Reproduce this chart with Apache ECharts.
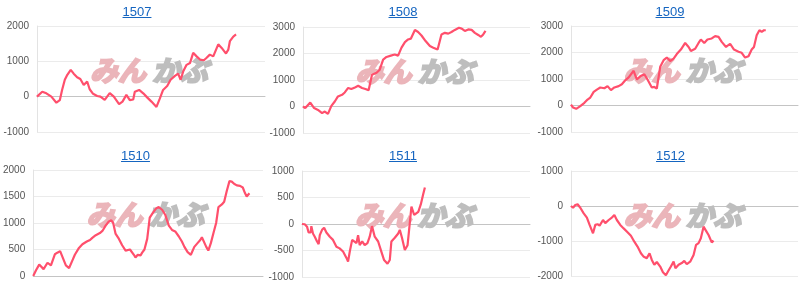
<!DOCTYPE html>
<html>
<head>
<meta charset="utf-8">
<script src="https://cdn.jsdelivr.net/npm/echarts@6/dist/echarts.min.js"></script>
<style>
html,body{margin:0;padding:0;background:#fff;}
#wrap{position:relative;width:800px;height:289px;}
#chart{position:absolute;left:0;top:0;width:800px;height:289px;}
.ttl{position:absolute;width:80px;margin-left:-40px;text-align:center;font:13px "Liberation Sans",Arial,sans-serif;line-height:15px;}
.ttl a{color:#1565c0;text-decoration:underline;}
</style>
</head>
<body>
<div id="wrap"><div id="chart"></div></div>
<script>
// ---- data (x = position within the period, 0..100; y = value) ----
const titles = ['1507', '1508', '1509', '1510', '1511', '1512'];

const x1507 = [0,2.3,4.1,6.3,8.5,10.0,11.0,12.2,13.3,14.8,16.1,17.6,19.0,20.5,22.0,23.1,24.6,26.4,27.8,29.7,31.9,33.7,36.0,37.5,39.2,40.7,42.2,42.9,44.8,46.6,48.3,50.2,52.4,53.9,55.3,57.1,58.6,60.5,61.9,63.0,64.1,65.6,67.1,68.5,70.0,71.5,73.2,74.4,75.8,77.3,79.5,81.0,82.9,83.9,84.6,86.1,87.3];
const v1507 = [0,140,95,0,-170,-100,190,480,620,760,650,550,500,330,430,210,80,20,0,-90,100,0,-210,-140,50,-100,-80,140,190,95,-20,-140,-290,-50,190,300,480,590,650,480,710,900,950,1240,1140,1050,1030,1100,1190,1140,1480,1380,1220,1330,1570,1700,1760];

const x1508 = [0,1.0,3.2,4.9,6.6,8.4,9.6,11.0,12.5,14.0,15.4,17.2,18.4,19.9,21.3,23.1,24.3,26.0,27.5,28.9,30.4,32.4,33.8,35.3,36.8,38.7,40.4,41.9,43.4,44.9,46.3,47.5,49.3,50.7,52.2,54.0,55.9,57.4,59.3,61.0,62.5,64.0,65.4,66.9,68.7,69.9,71.3,72.8,74.3,75.7,77.2,78.4,79.4,80.4];
const v1508 = [0,-60,150,-60,-130,-250,-190,-280,25,190,380,440,530,700,660,730,780,700,660,610,1200,1270,1390,1770,1870,1920,1960,1920,2220,2430,2530,2560,2890,2810,2680,2470,2280,2220,2150,2720,2780,2750,2810,2890,2970,2940,2850,2910,2890,2780,2700,2630,2720,2850];

const x1509 = [0,0.9,2.3,4.1,5.9,7.3,8.5,10.0,11.4,12.9,14.7,16.1,17.6,19.1,21.0,22.4,23.9,25.4,27.6,29.0,30.5,32.3,33.7,35.6,36.7,37.8,39.3,40.8,42.2,43.7,45.2,46.6,48.4,50.3,51.8,52.8,54.7,56.2,57.2,58.7,60.1,62.0,63.5,65.0,66.4,68.3,70.1,71.8,73.8,75.2,76.7,78.2,79.6,80.6,81.8,83.0,84.0,85.0,85.8];
const v1509 = [30,-75,-125,-25,100,225,300,515,600,680,650,730,580,680,730,800,950,1060,1310,980,1100,1180,980,680,700,640,1460,1710,1810,1680,1770,1940,2110,2360,2210,2060,2140,2360,2490,2360,2490,2530,2620,2590,2400,2210,2330,2110,2030,1990,1810,1860,2110,2210,2650,2840,2780,2840,2840];

const x1510 = [0,1.2,2.6,4.5,6.2,7.7,9.4,10.5,11.7,14.2,15.6,17.1,18.1,19.9,21.4,23.3,24.7,25.7,27.2,29.0,30.1,31.5,32.9,34.0,34.8,35.8,37.3,38.7,40.2,40.9,42.1,42.6,43.8,44.5,45.5,46.7,47.4,48.4,49.6,50.7,52.2,53.6,54.6,56.1,57.5,59.0,60.4,61.8,63.3,64.7,65.8,67.2,68.6,70.1,71.5,72.7,73.4,74.1,75.3,76.2,77.3,78.5,79.6,80.6,82.1,83.1,84.2,85.4,86.4,87.4,88.6,90.0,91.2,92.2,92.9,93.6,94.1];
const v1510 = [0,107,215,130,250,200,410,440,470,200,150,300,400,530,600,650,680,720,770,810,850,950,1030,1050,1000,800,700,580,480,450,500,530,400,350,400,390,440,500,700,1100,1200,1280,1300,1250,1150,950,870,840,750,650,550,450,400,550,620,680,730,700,550,480,620,820,1000,1300,1350,1400,1600,1790,1780,1740,1710,1700,1670,1560,1500,1530,1560];

const x1511 = [0,1.2,2.2,2.9,3.8,4.1,4.8,5.6,6.6,7.3,7.8,8.8,9.7,10.7,12.2,13.6,15.1,16.5,18.0,19.5,20.2,21.0,22.0,22.8,23.9,24.6,25.3,26.4,27.5,28.7,29.7,30.7,31.9,33.4,34.8,36.0,37.5,38.5,39.2,40.7,42.2,42.9,43.9,45.1,46.3,46.9,48.0,49.2,49.8,51.0,52.1,53.1,53.9];
const v1511 = [0,-5,-50,-160,-160,-40,-180,-240,-330,-380,-210,-110,-70,-160,-240,-300,-430,-460,-520,-640,-710,-510,-300,-280,-360,-210,-400,-330,-400,-360,-240,-40,-240,-330,-520,-680,-750,-680,-330,-260,-180,-110,-270,-490,-400,-145,330,170,140,230,370,550,690];

const x1512 = [0,0.9,1.9,2.9,4.1,5.6,7.0,8.2,9.7,10.7,11.7,12.6,14.1,15.1,16.6,18.0,19.1,20.2,21.7,23.2,24.9,26.4,27.9,29.3,30.8,31.9,33.4,34.6,35.6,36.7,37.8,39.3,40.5,41.8,42.9,44.0,45.2,46.0,47.4,48.8,49.9,51.0,52.5,54.0,55.1,56.2,57.2,58.4,59.5,60.6,62.0,62.8];
const v1512 = [0,-50,30,50,-50,-210,-330,-540,-780,-540,-520,-560,-400,-490,-400,-330,-260,-400,-540,-640,-750,-850,-1020,-1160,-1350,-1440,-1490,-1350,-1540,-1680,-1600,-1730,-1890,-1980,-1850,-1730,-1590,-1780,-1680,-1630,-1570,-1660,-1590,-1400,-1110,-1060,-920,-590,-710,-830,-1040,-990];

// y-axis tick ranges per panel
const yMin = [-1000, -1000, -1000, 0, -1000, -2000];
const yMax = [2000, 3000, 3000, 2000, 1000, 1000];
const yStep = [1000, 1000, 1000, 500, 500, 1000];

const xs = [x1507, x1508, x1509, x1510, x1511, x1512];
const vs = [v1507, v1508, v1509, v1510, v1511, v1512];

// ---- layout (not data) ----
const boxes = [
  {left: 37, top: 26, width: 228, height: 106},
  {left: 303, top: 27, width: 227, height: 106},
  {left: 571, top: 26, width: 227, height: 106},
  {left: 32, top: 170, width: 231, height: 106},
  {left: 302, top: 171, width: 228, height: 106},
  {left: 571, top: 171, width: 227, height: 105}
];
const titlePos = [[137, 4], [403, 4], [670, 4], [135.5, 148], [403, 148], [670.5, 148]];

const wrap = document.getElementById('wrap');
titles.forEach((t, i) => {
  const d = document.createElement('div');
  d.className = 'ttl';
  d.style.left = titlePos[i][0] + 'px';
  d.style.top = titlePos[i][1] + 'px';
  const a = document.createElement('a');
  a.href = '#';
  a.textContent = t;
  d.appendChild(a);
  wrap.appendChild(d);
});

const font = '"Liberation Sans", Arial, sans-serif';
const grid = [], xAxis = [], yAxis = [], series = [], graphic = [];
boxes.forEach((b, i) => {
  grid.push({left: b.left, top: b.top, width: b.width, height: b.height, containLabel: false});
  xAxis.push({
    type: 'value', gridIndex: i, min: 0, max: 100,
    axisLabel: {show: false}, axisTick: {show: false}, splitLine: {show: false},
    axisLine: {show: true, onZero: true, lineStyle: {color: '#c4c4c4', width: 1}}
  });
  yAxis.push({
    type: 'value', gridIndex: i, min: yMin[i], max: yMax[i], interval: yStep[i],
    axisLabel: {color: '#555', fontSize: 10, fontFamily: font, margin: 8, formatter: v => String(v)},
    axisTick: {show: false},
    axisLine: {show: true, lineStyle: {color: '#e3e3e3'}},
    splitLine: {show: true, lineStyle: {color: '#ebebeb', width: 1}}
  });
  series.push({
    type: 'line', xAxisIndex: i, yAxisIndex: i,
    data: xs[i].map((x, k) => [x, vs[i][k]]),
    showSymbol: false, symbol: 'none', smooth: false,
    lineStyle: {color: '#ff4f6c', width: 2.2},
    z: 5, animation: false
  });
  const cx = b.left + b.width / 2 - 1;
  const cy = b.top + 44;
  graphic.push({
    type: 'text', x: cx - 4, y: cy, z: 1, silent: true,
    style: {text: 'みん', fill: '#ebb5ba', stroke: '#ebb5ba', lineWidth: 2.2,
      font: 'italic bold 28px "Noto Sans CJK JP"', textAlign: 'right', textVerticalAlign: 'middle'}
  });
  graphic.push({
    type: 'text', x: cx + 2, y: cy, z: 1, silent: true,
    style: {text: 'かぶ', fill: '#bebebe', stroke: '#bebebe', lineWidth: 2.2,
      font: 'italic bold 28px "Noto Sans CJK JP"', textAlign: 'left', textVerticalAlign: 'middle'}
  });
});

const chart = echarts.init(document.getElementById('chart'), null, {renderer: 'canvas'});
chart.setOption({
  animation: false,
  grid, xAxis, yAxis, series, graphic
});
</script>
</body>
</html>
